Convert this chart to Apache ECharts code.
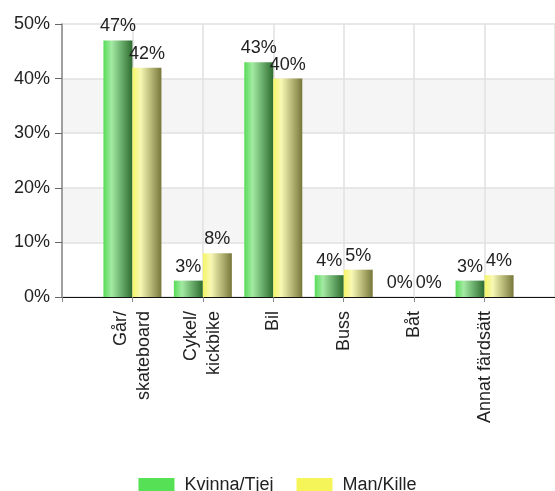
<!DOCTYPE html>
<html>
<head>
<meta charset="utf-8">
<script src="https://cdn.jsdelivr.net/npm/echarts@6/dist/echarts.min.js"></script>
<style>
html, body { margin: 0; padding: 0; background: #fff; }
#c1 { width: 555px; height: 491px; }
</style>
</head>
<body>
<div id="c1"></div>
<script>
// kategorier (tomma platser i början och slutet för att få samma placering)
var categories = ['', 'Går/\nskateboard', 'Cykel/\nkickbike', 'Bil', 'Buss', 'Båt', 'Annat färdsätt', ''];
var kvinna = [null, 47, 3, 43, 4, 0, 3, null];
var man = [null, 42, 8, 40, 5, 0, 4, null];
var yTicks = [0, 10, 20, 30, 40, 50];

var chart = echarts.init(document.getElementById('c1'));

function grad(c1, c2, c3) {
    return new echarts.graphic.LinearGradient(0, 0, 1, 0, [
        { offset: 0, color: c1 },
        { offset: 0.28, color: c2 },
        { offset: 1, color: c3 }
    ]);
}

var option = {
    backgroundColor: '#fff',
    textStyle: { fontFamily: 'Liberation Sans, Arial, sans-serif' },
    animation: false,
    grid: { left: 62, right: -7, top: 24, bottom: 194 },
    legend: {
        bottom: -8,
        left: 'center',
        itemWidth: 36,
        itemHeight: 14,
        itemGap: 23,
        icon: 'rect',
        textStyle: { fontSize: 18, color: '#222', padding: [0, 0, 0, 5] },
        data: [
            { name: 'Kvinna/Tjej', itemStyle: { color: '#55e055' } },
            { name: 'Man/Kille', itemStyle: { color: '#f5f55a' } }
        ]
    },
    xAxis: {
        type: 'category',
        data: categories,
        boundaryGap: false,
        axisLine: { lineStyle: { color: '#111', width: 1 } },
        axisTick: { length: 5, lineStyle: { color: '#888' } },
        axisLabel: {
            rotate: 90,
            margin: 14,
            fontSize: 18,
            color: '#222',
            interval: 0,
            lineHeight: 23
        },
        splitLine: { show: true, lineStyle: { color: '#e0e0e0', width: 1.5 } }
    },
    yAxis: {
        type: 'value',
        min: yTicks[0],
        max: yTicks[yTicks.length - 1],
        interval: 10,
        axisLine: { show: true, lineStyle: { color: '#888', width: 1.5 } },
        axisTick: { show: true, length: 7, lineStyle: { color: '#666' } },
        axisLabel: { formatter: '{value}%', fontSize: 18, color: '#222', margin: 12 },
        splitLine: { lineStyle: { color: '#e0e0e0', width: 1.5 } },
        splitArea: { show: true, areaStyle: { color: ['#fff', '#f5f5f5'] } }
    },
    series: [
        {
            name: 'Kvinna/Tjej',
            type: 'bar',
            data: kvinna,
            barWidth: 29,
            barGap: '0%',
            itemStyle: { color: grad('#57dc57', '#a3eaa3', '#2d6b2f') },
            label: { show: true, position: 'top', distance: 5, formatter: '{c}%', fontSize: 18, color: '#222' }
        },
        {
            name: 'Man/Kille',
            type: 'bar',
            data: man,
            barWidth: 29,
            barGap: '0%',
            itemStyle: { color: grad('#f5f566', '#f8f8b4', '#77773a') },
            label: { show: true, position: 'top', distance: 5, formatter: '{c}%', fontSize: 18, color: '#222' }
        }
    ]
};
chart.setOption(option);
</script>
</body>
</html>
